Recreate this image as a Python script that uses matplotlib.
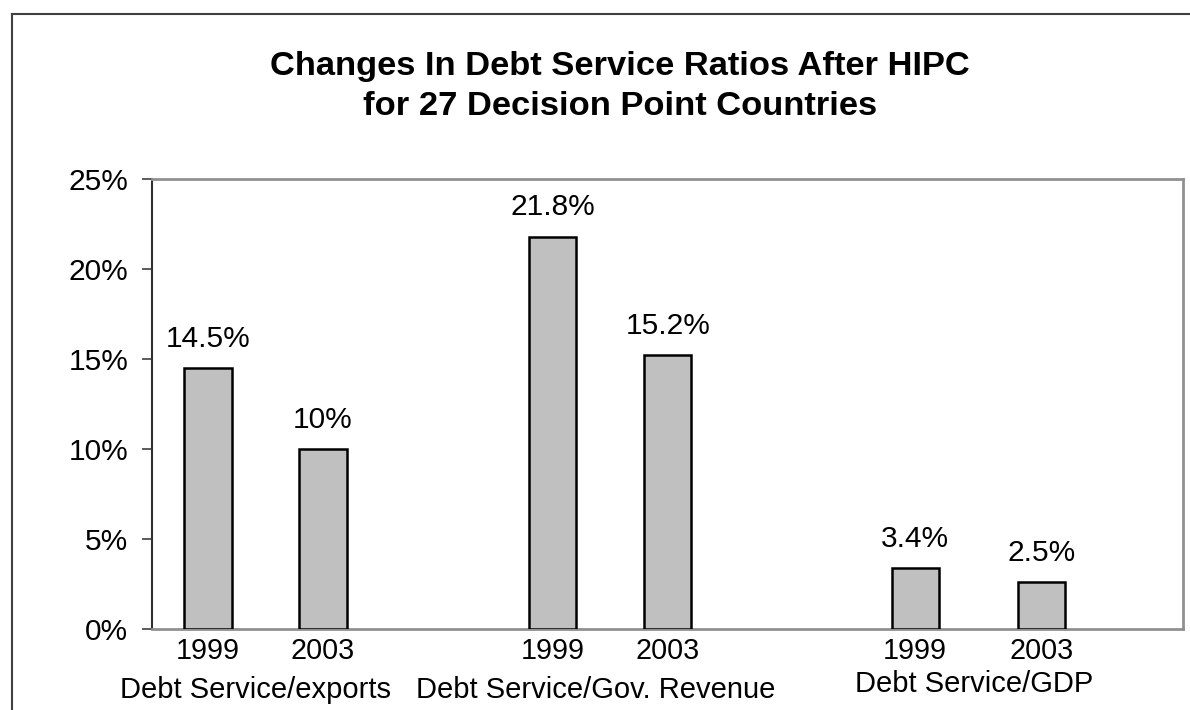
import matplotlib
matplotlib.use("Agg")
from matplotlib import pyplot as plt
from matplotlib.lines import Line2D

plt.rcParams["font.family"] = ["Liberation Sans", "DejaVu Sans"]

W, H = 1190, 710

years = ["1999", "2003", "1999", "2003", "1999", "2003"]
values = [14.5, 10.0, 21.8, 15.2, 3.4, 2.6]
value_labels = ["14.5%", "10%", "21.8%", "15.2%", "3.4%", "2.5%"]
positions = [0, 1, 3, 4, 6.15, 7.25]
groups = ["Debt Service/exports", "Debt Service/Gov. Revenue", "Debt Service/GDP"]
group_x = [0.41, 3.37, 6.66]
yticks = [0, 5, 10, 15, 20, 25]
title_lines = ["Changes In Debt Service Ratios After HIPC", "for 27 Decision Point Countries"]

fig = plt.figure(figsize=(W / 100, H / 100), dpi=100)
ax = fig.add_axes([152 / W, (H - 629) / H, (1183 - 152) / W, (629 - 179) / H])

ax.bar(positions, values, width=0.41, color="#c0c0c0", edgecolor="black", linewidth=1.8, zorder=3)

for x, v, lab in zip(positions, values, value_labels):
    ax.annotate(lab, (x, v), xytext=(0, 11), textcoords="offset points",
                ha="center", va="bottom", fontsize=21.5)

ax.set_xlim(-0.487, 8.48)
ax.set_ylim(0, 25)
ax.set_yticks(yticks)
ax.set_yticklabels([f"{t}%" for t in yticks], fontsize=21.5)
ax.set_xticks(positions)
ax.set_xticklabels(years, fontsize=20.7)
ax.tick_params(axis="x", length=0, pad=6)
ax.tick_params(axis="y", length=7, width=1.2, pad=10, color="#404040")

for name, sp in ax.spines.items():
    sp.set_color("#909090")
    sp.set_linewidth(2)
ax.spines["left"].set_color("#303030")
ax.spines["left"].set_linewidth(1.5)

group_y = [-0.135, -0.135, -0.122]
for gx, gy, g in zip(group_x, group_y, groups):
    ax.text(gx, gy, g, transform=ax.get_xaxis_transform(),
            ha="center", va="center", fontsize=21)

for line, base in zip(title_lines, [75, 115]):
    fig.text(620 / W, 1 - base / H, line, ha="center", va="baseline",
             fontsize=24.8, fontweight="bold")

# outer frame (left and top edges only)
fig.add_artist(Line2D([12 / W, 12 / W], [0, 1 - 14 / H], transform=fig.transFigure,
                      color="#404040", linewidth=1.5))
fig.add_artist(Line2D([12 / W, 1], [1 - 14 / H, 1 - 14 / H], transform=fig.transFigure,
                      color="#404040", linewidth=1.5))

fig.savefig("out.png", dpi=100)
